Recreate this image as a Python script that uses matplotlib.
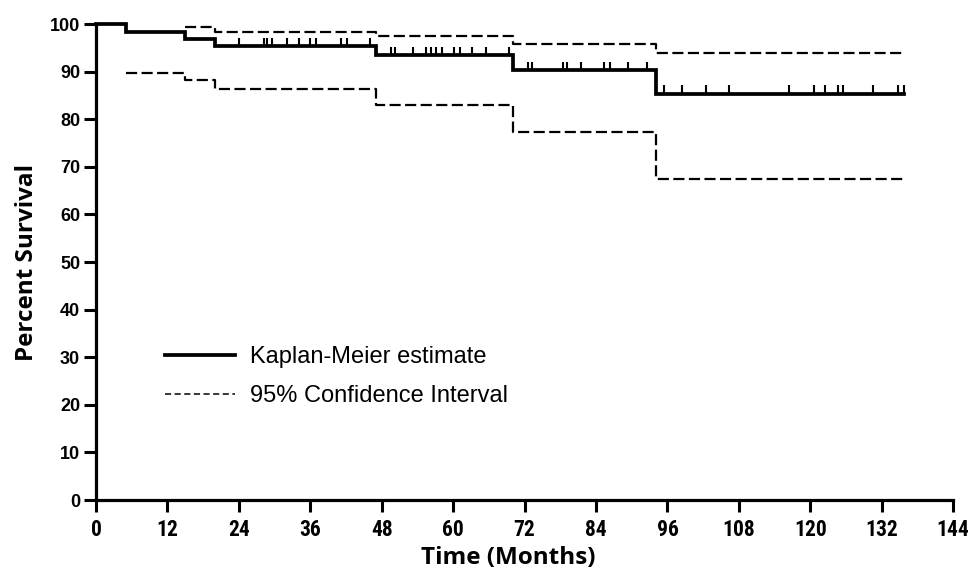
import numpy as np
import matplotlib
matplotlib.use("Agg")
import matplotlib.pyplot as plt
from matplotlib.lines import Line2D
from matplotlib import font_manager

# ---- data ----
km_times = [0, 5, 15, 20, 47, 70, 94]
km_surv = [100, 98.4, 96.8, 95.4, 93.5, 90.3, 85.4]
end_time = 135.8

upper_times = [15, 20, 47, 70, 94]
upper_vals = [99.3, 98.4, 97.5, 95.9, 94.0]

lower_times = [5, 15, 20, 47, 70, 94]
lower_vals = [89.8, 88.2, 86.3, 83.0, 77.4, 67.4]

censor_times = [24.0, 28.2, 28.7, 29.6, 32.1, 34.1, 36.0, 37.0, 41.1, 42.1, 46.1,
                49.5, 50.2, 53.2, 55.4, 56.2, 57.1, 58.2, 60.2, 61.1, 63.2, 65.5, 69.3,
                72.5, 73.2, 78.4, 79.2, 81.4, 85.4, 86.4, 89.3, 92.5,
                95.5, 98.4, 102.5, 106.4, 116.5, 120.7, 122.4, 124.6, 125.5, 130.6,
                134.7, 135.8]

x_ticks = list(range(0, 145, 12))
y_ticks = list(range(0, 101, 10))

legend_labels = ["Kaplan-Meier estimate", "95% Confidence Interval"]

# pick a condensed bold face for the x tick labels if one is installed
xfont_kw = {"fontfamily": "Liberation Sans", "fontsize": 13.5, "fontweight": "bold"}
for f in font_manager.fontManager.ttflist:
    if f.name in ("Liberation Sans Narrow", "Roboto Condensed", "Open Sans Condensed",
                  "DejaVu Sans Condensed"):
        xfont_kw = {"fontfamily": f.name, "fontsize": 15.5, "fontweight": "bold"}
        break
else:
    for f in font_manager.fontManager.ttflist:
        if f.name in ("DejaVu Sans", "Roboto", "Open Sans") and \
                str(f.stretch) in ("condensed", "semi-condensed") and \
                str(f.weight) in ("bold", "700"):
            xfont_kw = {"fontfamily": f.name, "fontstretch": f.stretch,
                        "fontsize": 14.5, "fontweight": "bold"}
            break

# ---- figure ----
fig = plt.figure(figsize=(9.76, 5.74), dpi=100)
ax = fig.add_axes([0.0984, 0.1289, 0.9766 - 0.0984, 0.958 - 0.1289])


def step_xy(times, vals, end):
    t = list(times) + [end]
    v = list(vals) + [vals[-1]]
    return t, v


t, v = step_xy(km_times, km_surv, end_time)
ax.step(t, v, where="post", color="black", lw=2.7, solid_joinstyle="miter",
        clip_on=False, zorder=3)

t, v = step_xy(upper_times, upper_vals, end_time)
ax.step(t, v, where="post", color="black", lw=1.6, dashes=(5, 2), clip_on=False, zorder=2)
t, v = step_xy(lower_times, lower_vals, end_time)
ax.step(t, v, where="post", color="black", lw=1.6, dashes=(5, 2), clip_on=False, zorder=2)

# censor ticks
ct = np.array(censor_times)
idx = np.searchsorted(np.array(km_times), ct, side="right") - 1
lv = np.array(km_surv)[idx]
ax.vlines(ct, lv, lv + 1.7, color="black", lw=1.5, zorder=3)

ax.set_xlim(0, 144)
ax.set_ylim(0, 100)
ax.set_xticks(x_ticks)
ax.set_yticks(y_ticks)
ax.set_xticklabels([str(x) for x in x_ticks], **xfont_kw)
ax.set_yticklabels([str(y) for y in y_ticks], fontfamily="Liberation Sans",
                   fontweight="bold", fontsize=13)

for s in ["top", "right"]:
    ax.spines[s].set_visible(False)
for s in ["left", "bottom"]:
    ax.spines[s].set_linewidth(2.3)
ax.tick_params(direction="out", length=8.5, width=2.2)
ax.tick_params(axis="x", pad=5)
ax.tick_params(axis="y", pad=3)

ax.set_xlabel("Time (Months)", fontfamily="Open Sans", fontweight="bold", fontsize=17.5)
ax.xaxis.set_label_coords(0.481, -0.097)
ax.set_ylabel("Percent Survival", fontfamily="Open Sans", fontweight="bold", fontsize=17.5,
              labelpad=8)

handles = [Line2D([], [], color="black", lw=2.7),
           Line2D([], [], color="black", lw=1.1, dashes=(4, 2.3))]
ax.legend(handles, legend_labels, loc="upper left", bbox_to_anchor=(0.0806, 0.3235),
          frameon=False, borderpad=0, borderaxespad=0, handlelength=2.96,
          handletextpad=0.64, labelspacing=0.72,
          prop={"family": "Liberation Sans", "size": 17})

fig.savefig("out.png", dpi=100)
